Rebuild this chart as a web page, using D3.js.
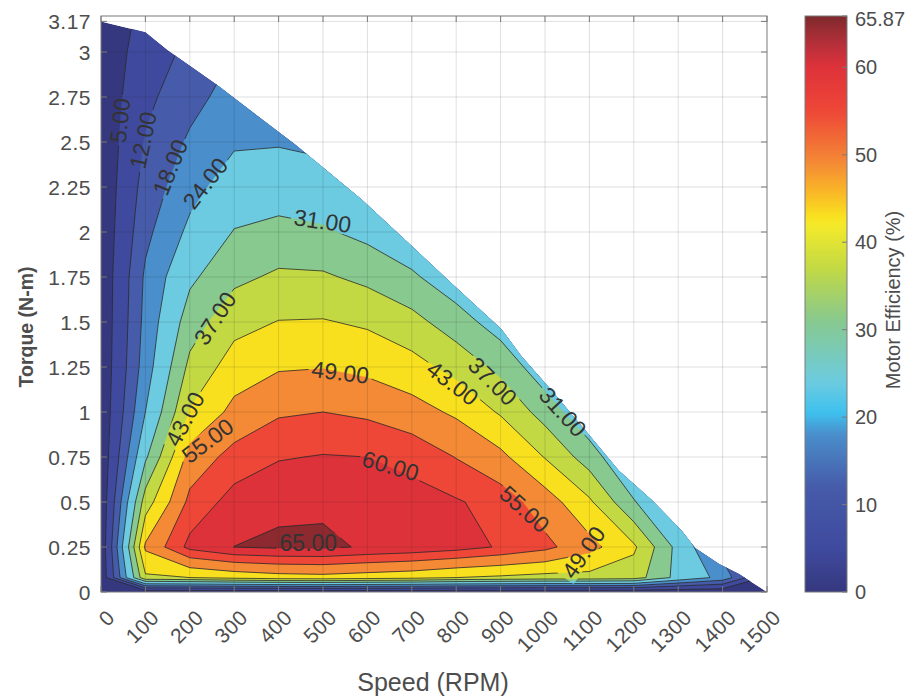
<!DOCTYPE html>
<html><head><meta charset="utf-8">
<script src="https://cdn.jsdelivr.net/npm/d3@7"></script>
<style>
body{margin:0;background:#fff}
text{font-family:"Liberation Sans",Arial,Helvetica,sans-serif}
</style>
</head><body>
<svg id="chart" width="906" height="700"></svg>
<script>
// ---------------- data ----------------
const speeds = [0,100,200,300,400,500,600,700,800,900,1000,1100,1200,1300,1400,1500];
const torques = [0,0.08,0.25,0.5,0.75,1.0,1.25,1.5,1.75,2.0,2.25,2.5,2.75,3.0,3.25];
// efficiency (%) : one row per torque, one column per speed
const eff_T000 = [0,0,0,0,0,0,0,0,0,0,0,0,0,0,0,0];
const eff_T008 = [0,42,43,45,46.5,47,46,45,43,42,41,41,40,29,22,3];
const eff_T025 = [0,50,61.5,65.05,65.8,65.87,64.5,63.5,62,59.5,56.5,51,44,29,15,2];
const eff_T050 = [0,40,56.5,62,64,64.2,62.5,61.5,60.5,58,52,44,31.5,22,12,2];
const eff_T075 = [0,30,51.4,57,59.6,60.3,60,58.8,54.8,50.5,42.7,34,24,18,10,2];
const eff_T100 = [0,24,43.4,50.7,54.3,55,54,51.4,48,42.3,34.5,26,20,15,9,2];
const eff_T125 = [0,21,38.5,45.8,48.4,48.8,47.5,45.2,41,35.3,27,21,17,13,8,2];
const eff_T150 = [0,19.8,34.1,41,43.2,43.4,42.1,39,33.8,28,22,18,15,12,7,2];
const eff_T175 = [0,19,29.8,35.6,38,37.8,35.5,32,27,23,19,16,13,11,6,2];
const eff_T200 = [0,16.5,25.4,31.3,32.8,31.8,29.3,26,22,19,16,14,12,10,6,2];
const eff_T225 = [0,14.5,21.9,27.2,27.8,27,25,22,19,16,14,12,10,9,5,2];
const eff_T250 = [0,12.5,18.9,23.2,23.5,22.5,22,19,16,14,12,10,9,8,5,2];
const eff_T275 = [0,10.5,16,20.5,20,20,19,16,14,12,10,9,8,7,4,2];
const eff_T300 = [0,8.5,13.5,18,17,18,16,14,12,10,9,8,7,6,4,2];
const eff_T325 = [0,6.5,11,15,14,15,13,12,10,9,8,7,6,5,3,2];
const efficiency = [eff_T000,eff_T008,eff_T025,eff_T050,eff_T075,eff_T100,eff_T125,eff_T150,
                    eff_T175,eff_T200,eff_T225,eff_T250,eff_T275,eff_T300,eff_T325];

// maximum torque envelope (torque-speed limit)
const envSpeed  = [0,100,150,260,440,587,692,796,902,947,1015,1090,1166,1241,1308,1338,1392,1437,1500];
const envTorque = [3.17,3.11,3.01,2.82,2.48,2.18,1.94,1.70,1.46,1.31,1.12,0.90,0.675,0.51,0.34,0.245,0.156,0.10,0.0];

const levels = [5,12,18,24,31,37,43,49,55,60,65];
const xTicks = [0,100,200,300,400,500,600,700,800,900,1000,1100,1200,1300,1400,1500];
const yTicks = [0,0.25,0.5,0.75,1,1.25,1.5,1.75,2,2.25,2.5,2.75,3,3.17];
const yTickText = ["0","0.25","0.5","0.75","1","1.25","1.5","1.75","2","2.25","2.5","2.75","3","3.17"];
const cbTicks = [0,10,20,30,40,50,60,65.87];
const effMin = 0, effMax = 65.87;

// contour labels: text, position (speed, torque), angle
const labelText  = ["5.00","12.00","18.00","24.00","31.00","37.00","43.00","49.00","55.00","60.00","65.00","55.00","49.00","43.00","37.00","31.00"];
const labelSpeed = [43,95,156,235,499,257,189,539,240,652,467,954,1087,792,882,1040];
const labelTorque= [2.62,2.51,2.36,2.27,2.06,1.52,0.96,1.22,0.84,0.70,0.27,0.46,0.22,1.16,1.17,1.0];
const labelAngle = [-84,-78,-68,-52,8,-57,-62,7,-37,16,0,42,-55,37,45,48];

// colormap stops (value -> colour)
const cmapVal = [0,5,12,18,20.5,24,31,37,42,43,46,49,55,60,62.5,65,65.87];
const cmapCol = ["#36387f","#3f4a9e","#465ba9","#4a8ecc","#3ec1ee","#6ccbe0","#87c98f","#c2d944",
                 "#f5ea2a","#f9e01f","#f9b328","#f48a35","#ee4737","#de323a","#b8303a","#8d2a30","#7b2a2c"];

// ---------------- layout ----------------
const svg = d3.select("#chart");
const X0 = 101, X1 = 767, Y0 = 592, Y1 = 16;
const x = d3.scaleLinear().domain([0,1500]).range([X0,X1]);
const y = d3.scaleLinear().domain([0,3.2]).range([Y0,Y1]);
const cmap = d3.scaleLinear().domain(cmapVal).range(cmapCol).interpolate(d3.interpolateRgb).clamp(true);

const defs = svg.append("defs");
const envPts = envSpeed.map((s,i)=>[x(s), y(envTorque[i])]);
const clipPoly = [[x(0),y(0)], ...envPts, [x(1500),y(0)]];
defs.append("clipPath").attr("id","envClip")
  .append("path").attr("d", d3.line()(clipPoly)+"Z");

// grid index -> data value
function idxMap(arr, c){
  const t = c - 0.5, n = arr.length;
  if (t <= 0) return arr[0] + t*(arr[1]-arr[0]);
  if (t >= n-1) return arr[n-1] + (t-(n-1))*(arr[n-1]-arr[n-2]);
  const i = Math.floor(t), f = t - i;
  return arr[i] + f*(arr[i+1]-arr[i]);
}
const nx = speeds.length, ny = torques.length;
const flat = [];
for (let j=0;j<ny;j++) for (let i=0;i<nx;i++) flat.push(efficiency[j][i]);
const contours = d3.contours().size([nx,ny]).thresholds(levels)(flat);
const proj = d3.geoTransform({point: function(px,py){
  this.stream.point(x(idxMap(speeds,px)), y(idxMap(torques,py)));
}});
const path = d3.geoPath(proj);

// filled bands
const gFill = svg.append("g").attr("clip-path","url(#envClip)");
gFill.append("path").attr("d", d3.line()(clipPoly)+"Z").attr("fill", cmap(effMin));
gFill.selectAll("path.band").data(contours).enter().append("path")
  .attr("class","band").attr("d", path).attr("fill", d=>cmap(d.value))
  .attr("fill-rule","evenodd").attr("stroke", d=>cmap(d.value)).attr("stroke-width",0.3);

// grid
const gGrid = svg.append("g").attr("stroke","#262626").attr("stroke-opacity",0.14).attr("stroke-width",1);
xTicks.slice(1,-1).forEach(t=>gGrid.append("line").attr("x1",x(t)).attr("x2",x(t)).attr("y1",Y1).attr("y2",Y0));
yTicks.slice(1).forEach(t=>gGrid.append("line").attr("x1",X0).attr("x2",X1).attr("y1",y(t)).attr("y2",y(t)));

// contour lines, masked under labels
const mask = defs.append("mask").attr("id","lblMask").attr("maskUnits","userSpaceOnUse")
  .attr("x",0).attr("y",0).attr("width",906).attr("height",700);
mask.append("rect").attr("width",906).attr("height",700).attr("fill","#fff");
const gLineWrap = svg.append("g").attr("clip-path","url(#envClip)");
const gLines = gLineWrap.append("g").attr("mask","url(#lblMask)");
gLines.selectAll("path").data(contours).enter().append("path")
  .attr("d", path).attr("fill","none").attr("stroke","#2a2a2a").attr("stroke-width",0.8);

// labels
const gLbl = svg.append("g");
labelText.forEach((t,i)=>{
  const px = x(labelSpeed[i]), py = y(labelTorque[i]);
  const tx = gLbl.append("text").attr("x",0).attr("y",0)
    .attr("transform",`translate(${px},${py}) rotate(${labelAngle[i]})`)
    .attr("text-anchor","middle").attr("dominant-baseline","central")
    .attr("font-size",23).attr("fill","#333").text(t);
  const w = tx.node().getComputedTextLength();
  mask.append("rect").attr("x",-w/2-3).attr("y",-10).attr("width",w+6).attr("height",20)
    .attr("transform",`translate(${px},${py}) rotate(${labelAngle[i]})`).attr("fill","#000");
});

// axes box + ticks
const axisCol = "#7a7a7a";
const gAx = svg.append("g").attr("stroke",axisCol).attr("stroke-width",1).attr("fill","none");
gAx.append("rect").attr("x",X0).attr("y",Y1).attr("width",X1-X0).attr("height",Y0-Y1);
xTicks.forEach(t=>{
  gAx.append("line").attr("x1",x(t)).attr("x2",x(t)).attr("y1",Y0).attr("y2",Y0-6);
  gAx.append("line").attr("x1",x(t)).attr("x2",x(t)).attr("y1",Y1).attr("y2",Y1+6);
});
yTicks.forEach(t=>{
  gAx.append("line").attr("x1",X0).attr("x2",X0+6).attr("y1",y(t)).attr("y2",y(t));
  gAx.append("line").attr("x1",X1).attr("x2",X1-6).attr("y1",y(t)).attr("y2",y(t));
});
const tickCol = "#4d4d4d";
yTicks.forEach((t,i)=>{
  svg.append("text").attr("x",X0-10).attr("y",y(t)).attr("text-anchor","end")
    .attr("dominant-baseline","central").attr("font-size",21).attr("letter-spacing",0.5)
    .attr("fill",tickCol).text(yTickText[i]);
});
xTicks.forEach(t=>{
  svg.append("text").attr("transform",`translate(${x(t)+15},${Y0+27}) rotate(-45)`)
    .attr("text-anchor","end").attr("font-size",21).attr("letter-spacing",0.5)
    .attr("fill",tickCol).text(String(t));
});
svg.append("text").attr("x",433).attr("y",691).attr("text-anchor","middle")
  .attr("font-size",25).attr("fill","#4d4d4d").text("Speed (RPM)");
svg.append("text").attr("transform","translate(33,327) rotate(-90)").attr("text-anchor","middle")
  .attr("font-size",19.5).attr("font-weight","bold").attr("fill","#4d4d4d").text("Torque (N-m)");

// colorbar
const CB0 = 805, CB1 = 847;
const cy = d3.scaleLinear().domain([effMin,effMax]).range([Y0,Y1]);
const grad = defs.append("linearGradient").attr("id","cbGrad").attr("x1",0).attr("y1",1).attr("x2",0).attr("y2",0);
d3.range(0,101).forEach(k=>{
  const v = effMin + (effMax-effMin)*k/100;
  grad.append("stop").attr("offset",k+"%").attr("stop-color",cmap(v));
});
svg.append("rect").attr("x",CB0).attr("y",Y1).attr("width",CB1-CB0).attr("height",Y0-Y1)
  .attr("fill","url(#cbGrad)").attr("stroke",axisCol).attr("stroke-width",1);
cbTicks.forEach(t=>{
  svg.append("line").attr("x1",CB1).attr("x2",CB1-5).attr("y1",cy(t)).attr("y2",cy(t))
    .attr("stroke",axisCol);
  svg.append("text").attr("x",CB1+8).attr("y",cy(t)+(t===effMax?3:0)).attr("dominant-baseline","central")
    .attr("font-size",20).attr("fill",tickCol).text(String(t));
});
svg.append("text").attr("transform","translate(893,300) rotate(-90)").attr("text-anchor","middle")
  .attr("dominant-baseline","central").attr("font-size",20).attr("fill","#4d4d4d").text("Motor Efficiency (%)");
</script>
</body></html>
